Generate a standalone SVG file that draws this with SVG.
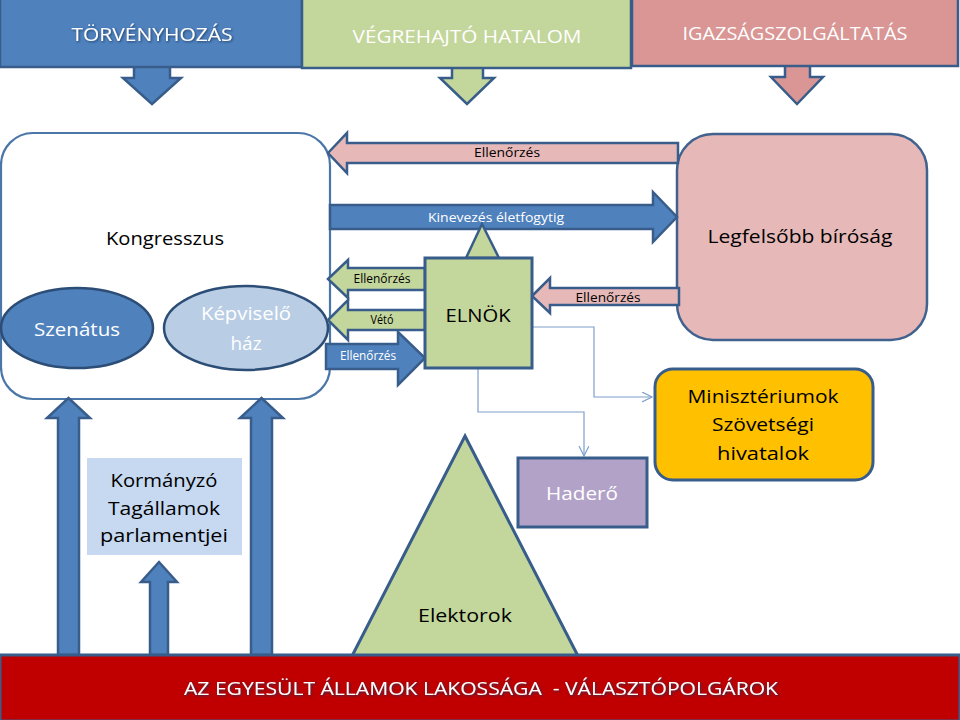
<svg xmlns="http://www.w3.org/2000/svg" width="960" height="720" viewBox="0 0 960 720">
<style>
text{font-family:"Open Sans","Liberation Sans",sans-serif;text-anchor:middle}
.hdr{font-size:19px;fill:#fff}
.lbl{font-size:19px;fill:#000}
.wl{font-size:19px;fill:#fff}
.sm{font-size:12px;fill:#000}
.smw{font-size:12px;fill:#fff}
.blue{fill:#4F81BD;stroke:#385D8A;stroke-width:2.5}
.green{fill:#C3D69B;stroke:#385D8A;stroke-width:2.5}
.pink{fill:#E6B9B8;stroke:#385D8A;stroke-width:2.5}
.pink2{fill:#D99694;stroke:#385D8A;stroke-width:2.5}
.thin{fill:none;stroke:#7F9FCB;stroke-width:1.2}
</style>
<defs>
<filter id="sh" x="-10%" y="-30%" width="120%" height="160%">
<feDropShadow dx="1" dy="1" stdDeviation="0.8" flood-color="#17375E" flood-opacity="0.9"/>
</filter>
<marker id="open" markerWidth="12" markerHeight="12" refX="10" refY="5" orient="auto" markerUnits="userSpaceOnUse">
<path d="M0,0 L10,5 L0,10" fill="none" stroke="#7F9FCB" stroke-width="1.2"/>
</marker>
</defs>
<rect width="960" height="720" fill="#fff"/>

<g id="header-arrows">
<path class="blue" d="M134,60 L170,60 L170,78 L181,78 L152,104 L123,78 L134,78 Z"/>
<path class="green" d="M452,60 L483,60 L483,78 L494,78 L467,104 L440,78 L452,78 Z"/>
<path class="pink2" d="M785,60 L810,60 L810,77 L823,77 L797,104 L771,77 L785,77 Z"/>
</g>

<g id="torvenyhozas">
<rect class="blue" x="0" y="-3" width="302" height="70"/>
<text class="hdr" x="152" y="41" textLength="161" lengthAdjust="spacingAndGlyphs" filter="url(#sh)">TÖRVÉNYHOZÁS</text>
</g>
<g id="vegrehajto">
<rect class="green" x="302" y="-3" width="329" height="71"/>
<text class="hdr" x="467" y="43" textLength="229" lengthAdjust="spacingAndGlyphs">VÉGREHAJTÓ HATALOM</text>
</g>
<g id="igazsagszolgaltatas">
<rect class="pink2" x="632" y="-3" width="326" height="69"/>
<text class="hdr" x="795" y="40" textLength="225" lengthAdjust="spacingAndGlyphs">IGAZSÁGSZOLGÁLTATÁS</text>
</g>

<g id="kongresszus">
<rect x="1" y="133" width="329" height="266" rx="32" fill="#fff" stroke="#4A76A8" stroke-width="2.2"/>
<text class="lbl" x="165" y="245" textLength="118" lengthAdjust="spacingAndGlyphs">Kongresszus</text>
</g>
<g id="szenatus">
<ellipse cx="77" cy="328" rx="76" ry="40" fill="#4F81BD" stroke="#2C4D75" stroke-width="2.5"/>
<text class="wl" x="77" y="336" textLength="86" lengthAdjust="spacingAndGlyphs">Szenátus</text>
</g>
<g id="kepviselohaz">
<ellipse cx="246" cy="328" rx="82" ry="42" fill="#B9CDE5" stroke="#2C4D75" stroke-width="2.5"/>
<text class="wl" x="246" y="320" textLength="90" lengthAdjust="spacingAndGlyphs">Képviselő</text>
<text class="wl" x="246" y="350">ház</text>
</g>

<g id="legfelsobb">
<rect x="677" y="134" width="250" height="206" rx="36" fill="#E6B9B8" stroke="#41628E" stroke-width="2.5"/>
<text class="lbl" x="800" y="243" textLength="185" lengthAdjust="spacingAndGlyphs">Legfelsőbb bíróság</text>
</g>

<g id="connectors">
<path class="pink" d="M328,153 L347,133 L347,143 L678,143 L678,163 L347,163 L347,173 Z"/>
<text class="sm" x="507" y="157" textLength="66" lengthAdjust="spacingAndGlyphs">Ellenőrzés</text>
<path class="blue" d="M330,205 L653,205 L653,192 L677,217 L653,242 L653,229 L330,229 Z"/>
<text class="smw" x="496" y="222" textLength="136" lengthAdjust="spacingAndGlyphs">Kinevezés életfogytig</text>
<path class="green" d="M482,224 L499,258 L466,258 Z"/>
<path class="green" d="M328,279 L348,260 L348,268 L425,268 L425,290 L348,290 L348,298 Z"/>
<text class="sm" x="382" y="283" font-size="11" textLength="57" lengthAdjust="spacingAndGlyphs">Ellenőrzés</text>
<path class="green" d="M328,320 L348,300 L348,310 L425,310 L425,330 L348,330 L348,340 Z"/>
<text class="sm" x="382" y="324" font-size="11" textLength="23" lengthAdjust="spacingAndGlyphs">Vétó</text>
<path class="blue" d="M326,344 L398,344 L398,332 L425,358 L398,385 L398,369 L326,369 Z"/>
<text class="smw" x="368" y="360" textLength="56" lengthAdjust="spacingAndGlyphs">Ellenőrzés</text>
<path class="pink" d="M532,296 L550,278 L550,288 L679,288 L679,305 L550,305 L550,313 Z"/>
<text class="sm" x="608" y="302" textLength="65" lengthAdjust="spacingAndGlyphs">Ellenőrzés</text>
<path class="thin" d="M532,327 L594,327 L594,397 L652,397" marker-end="url(#open)"/>
<path class="thin" d="M478,368 L478,412 L584,412 L584,456" marker-end="url(#open)"/>
<path class="blue" d="M58,655 L58,418 L47,418 L68.5,398 L90,418 L79,418 L79,655 Z"/>
<path class="blue" d="M150,655 L150,582 L141,582 L159,562 L177,582 L168,582 L168,655 Z"/>
<path class="blue" d="M251,655 L251,418 L240,418 L261.5,398 L283,418 L272,418 L272,655 Z"/>
</g>

<g id="elnok">
<rect x="425" y="258" width="107" height="110" fill="#C3D69B" stroke="#385D8A" stroke-width="3"/>
<text class="lbl" x="478" y="322" font-size="23" textLength="65" lengthAdjust="spacingAndGlyphs">ELNÖK</text>
</g>

<g id="miniszteriumok">
<rect x="655" y="369" width="218" height="111" rx="18" fill="#FFC000" stroke="#385D8A" stroke-width="3"/>
<text class="lbl" x="763" y="403" font-size="20" textLength="151" lengthAdjust="spacingAndGlyphs">Minisztériumok</text>
<text class="lbl" x="763" y="431" font-size="20" textLength="102" lengthAdjust="spacingAndGlyphs">Szövetségi</text>
<text class="lbl" x="763" y="460" font-size="20" textLength="92" lengthAdjust="spacingAndGlyphs">hivatalok</text>
</g>

<g id="hadero">
<rect x="518" y="458" width="129" height="69" fill="#B3A2C7" stroke="#385D8A" stroke-width="3"/>
<text class="wl" x="582" y="500" textLength="72" lengthAdjust="spacingAndGlyphs">Haderő</text>
</g>

<g id="kormanyzo">
<rect x="87" y="458" width="155" height="97" fill="#C6D9F1"/>
<text class="lbl" x="164" y="487" textLength="107" lengthAdjust="spacingAndGlyphs">Kormányzó</text>
<text class="lbl" x="164" y="515" textLength="112" lengthAdjust="spacingAndGlyphs">Tagállamok</text>
<text class="lbl" x="164" y="542" textLength="128" lengthAdjust="spacingAndGlyphs">parlamentjei</text>
</g>

<g id="elektorok">
<path d="M465,436 L578,656 L352,656 Z" fill="#C3D69B" stroke="#385D8A" stroke-width="3"/>
<text class="lbl" x="465" y="622" textLength="94" lengthAdjust="spacingAndGlyphs">Elektorok</text>
</g>

<g id="lakossag">
<rect x="0" y="655" width="960" height="66" fill="#C00000" stroke="#385D8A" stroke-width="3"/>
<text class="hdr" x="481" y="695" xml:space="preserve" style="white-space:pre" textLength="594" lengthAdjust="spacingAndGlyphs" filter="url(#sh)">AZ EGYESÜLT ÁLLAMOK LAKOSSÁGA  - VÁLASZTÓPOLGÁROK</text>
</g>
</svg>
